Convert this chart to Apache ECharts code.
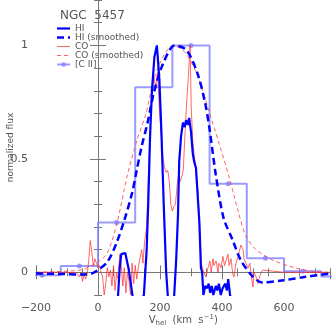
<!DOCTYPE html>
<html><head><meta charset="utf-8">
<script src="https://cdn.jsdelivr.net/npm/echarts@6/dist/echarts.min.js"></script>
<style>html,body{margin:0;padding:0;background:#fff}#c{width:332px;height:329px}</style>
</head><body><div id="c"></div>
<script>
// ---- data ----
const xMajorTicks = [-200, 0, 200, 400, 600];
const yMajorTicks = [0, 0.5, 1];

// HI (raw profile)
const hiV = [50,64,70,75,88,98,106,113,130,148,157,162,168,174,182,190,198,205,212,220,226,245,252,258,262,268,274,280,284,290,294,300,306,310,316,321,327,332,336,340,346,352,357,362,367,372,380,385,390,396,402,410,416,420,426,432];
const hiF = [-0.15,-0.12,0.02,0.08,0.085,0.02,-0.05,-0.12,-0.15,-0.1,0.1,0.3,0.6,0.8,0.95,1.0,0.85,0.6,0.3,0.0,-0.12,-0.12,0.05,0.25,0.49,0.6,0.66,0.64,0.67,0.65,0.68,0.62,0.52,0.49,0.46,0.35,0.22,0.02,0.0,-0.1,-0.06,-0.07,-0.05,-0.09,-0.06,-0.1,-0.06,-0.08,-0.05,-0.1,-0.07,-0.05,-0.08,-0.03,-0.1,-0.13];

// HI (smoothed)
const hisV = [-200,-100,-50,-20,0,30,60,85,110,125,140,160,180,210,248,285,320,345,360,380,405,435,460,500,530,600,670,750];
const hisF = [-0.005,-0.008,-0.01,-0.005,0.01,0.045,0.13,0.23,0.35,0.45,0.55,0.66,0.79,0.92,1.0,0.98,0.88,0.75,0.63,0.43,0.24,0.14,0.055,-0.02,-0.045,-0.035,-0.02,-0.005];

// CO (raw profile)
const coV = [-200,-150,-100,-70,-60,-55,-50,-45,-40,-35,-30,-25,-20,-15,-10,-5,0,5,10,15,20,25,30,35,40,45,50,55,60,65,70,75,80,85,90,95,100,105,110,115,120,125,130,135,141,145,150,157,162,168,174,180,186,192,198,204,210,215,220,225,230,235,240,245,250,255,260,265,270,275,281,286,291,297,301,306,312,318,323,327,333,339,342,348,355,361,365,371,374,381,387,390,397,403,408,413,419,423,429,435,439,445,452,461,468,471,477,484,490,494,500,503,510,516,519,526,532,600,700,750];
const coF = [0,0,0,-0.002,-0.02,0,-0.04,-0.01,-0.03,-0.01,0.05,0.14,0.09,0.03,0.06,0.04,0.02,0.03,0,-0.02,-0.1,-0.05,0.02,-0.02,0.01,-0.06,0.03,-0.08,0,-0.03,0.08,0.03,-0.06,0.02,-0.09,0,-0.04,-0.1,0.04,-0.05,0.03,-0.03,0.02,0.06,0.1,0.04,0.13,0.2,0.4,0.62,0.8,0.86,0.82,0.88,0.72,0.6,0.5,0.46,0.44,0.45,0.4,0.3,0.27,0.29,0.3,0.38,0.43,0.4,0.42,0.45,0.62,0.75,0.85,1.0,0.72,0.57,0.5,0.42,0.35,0.23,0.04,0.01,0,-0.02,0.02,0.05,0,0.06,0.03,0.05,0,0.04,0.02,0.07,0.03,0.05,0.08,0.03,0.06,-0.01,-0.02,0.04,0.07,0.12,0.1,0.06,0.04,0.02,0.04,-0.01,-0.065,0,-0.02,-0.05,-0.03,0,0.01,0,0,0];

// CO (smoothed)
const cosV = [-200,-100,-50,0,30,60,95,125,155,180,210,242,280,320,358,390,423,450,477,510,565,630,700,750];
const cosF = [0,0.005,0.012,0.045,0.085,0.21,0.43,0.58,0.7,0.85,0.95,1.0,0.97,0.87,0.71,0.57,0.42,0.28,0.16,0.10,0.053,0.022,0.003,0];

// [C II] binned spectrum
const ciiCenters = [-180,-60,60,180,300,420,540,660,780];
const ciiF = [-0.013,0.028,0.22,0.815,1.0,0.39,0.062,0.005,-0.018];
const ciiBinWidth = 120;

const legendNames = ['HI', 'HI (smoothed)', 'CO', 'CO (smoothed)', '[C II]'];
const titleText = 'NGC  5457';

// ---- build series data ----
const zip = (a, b) => a.map((v, i) => [v, b[i]]);
const ciiData = [];
ciiCenters.forEach((c, i) => {
  ciiData.push({value: [c - ciiBinWidth / 2, ciiF[i]], symbol: 'none'});
  ciiData.push({value: [c, ciiF[i]]});
  ciiData.push({value: [c + ciiBinWidth / 2, ciiF[i]], symbol: 'none'});
});

const FONT = 'DejaVu Sans';
const AX = '#777';
const TXT = '#555';
const XMIN = -200, XMAX = 750, YMIN = -0.1, YMAX = 1.2;

const C_HI = '#0000ff';
const C_CO = 'rgba(255,40,40,0.7)';
const C_COS = 'rgba(255,70,70,0.85)';
const C_CII = 'rgba(130,130,255,0.8)';

const styles = [
  {stroke: C_HI, lineWidth: 2.2},
  {stroke: C_HI, lineWidth: 2.5, lineDash: [7, 4]},
  {stroke: C_CO, lineWidth: 1},
  {stroke: C_COS, lineWidth: 1, lineDash: [4, 3]},
  {stroke: C_CII, lineWidth: 2}
];

function xAx(pos, major, labels) {
  return {
    type: 'value', position: pos, min: XMIN, max: XMAX,
    interval: major ? 200 : 50,
    axisLine: {show: major, lineStyle: {color: AX, width: 1}},
    axisTick: {show: true, inside: true, length: major ? 7 : 4, lineStyle: {color: AX}},
    axisLabel: {show: labels, color: TXT, fontFamily: FONT, fontSize: 11, margin: 8,
      showMinLabel: true, showMaxLabel: false,
      formatter: v => (v < 0 ? '\u2212' + Math.abs(v) : '' + v)},
    splitLine: {show: false}
  };
}
function yAx(pos, major, labels) {
  const a = {
    type: 'value', position: pos, min: YMIN, max: YMAX,
    axisLine: {show: major, lineStyle: {color: AX, width: 1}},
    axisTick: {show: true, inside: true, length: major ? 8 : 4, lineStyle: {color: AX}},
    axisLabel: {show: labels, color: TXT, fontFamily: FONT, fontSize: 11, margin: 8},
    splitLine: {show: false}
  };
  if (major) {
    a.axisTick.customValues = yMajorTicks;
    a.axisLabel.customValues = yMajorTicks;
  } else {
    a.interval = 0.1;
  }
  return a;
}

const xAxes = [xAx('bottom', true, true), xAx('bottom', false, false), xAx('top', true, false), xAx('top', false, false)];
xAxes[0].name = 'V{sub|hel}  (km  s{sup|\u22121})';
xAxes[0].nameLocation = 'middle';
xAxes[0].nameGap = 19;
xAxes[0].nameMoveOverlap = false;
xAxes[0].nameTextStyle = {color: TXT, fontFamily: FONT, fontSize: 10,
  rich: {sub: {fontSize: 7, verticalAlign: 'bottom', padding: [6, 0, 0, 0], fontFamily: FONT, color: TXT},
         sup: {fontSize: 7, verticalAlign: 'top', padding: [0, 0, 6, 0], fontFamily: FONT, color: TXT}}};
const yAxes = [yAx('left', true, true), yAx('left', false, false), yAx('right', true, false), yAx('right', false, false)];
yAxes[0].name = 'normalized flux';
yAxes[0].nameLocation = 'middle';
yAxes[0].nameGap = 21;
yAxes[0].nameMoveOverlap = false;
yAxes[0].nameTextStyle = {color: TXT, fontFamily: FONT, fontSize: 9};

// legend drawn as graphic elements
const graphics = [{type: 'text', left: 60, top: 10, style: {text: titleText, fill: TXT, font: '12px "DejaVu Sans"'}}];
legendNames.forEach((n, i) => {
  const y = 28.5 + i * 9;
  graphics.push({type: 'line', shape: {x1: 57, y1: y, x2: 70, y2: y}, style: Object.assign({fill: null}, styles[i])});
  if (i === 4) graphics.push({type: 'circle', shape: {cx: 63.5, cy: y, r: 2.3}, style: {fill: C_CII}});
  graphics.push({type: 'text', x: 75, y: y, style: {text: n, fill: TXT, font: '9px "DejaVu Sans"', verticalAlign: 'middle'}});
});

const chart = echarts.init(document.getElementById('c'), null, {renderer: 'canvas'});
chart.setOption({
  animation: false,
  backgroundColor: '#fff',
  grid: {left: 36, right: 1.5, top: 0, bottom: 34, containLabel: false, outerBoundsMode: 'none'},
  graphic: graphics,
  xAxis: xAxes,
  yAxis: yAxes,
  series: [
    {name: '[C II]', type: 'line', data: ciiData, symbol: 'circle', symbolSize: 5, showAllSymbol: true,
      itemStyle: {color: C_CII}, lineStyle: {color: C_CII, width: 2}, z: 1},
    {name: 'CO (smoothed)', type: 'line', data: zip(cosV, cosF), symbol: 'none', smooth: 0.3,
      itemStyle: {color: C_COS}, lineStyle: {color: C_COS, width: 1, type: [4, 3]}, z: 2},
    {name: 'CO', type: 'line', data: zip(coV, coF), symbol: 'none',
      itemStyle: {color: C_CO}, lineStyle: {color: C_CO, width: 1}, z: 3},
    {name: 'HI (smoothed)', type: 'line', data: zip(hisV, hisF), symbol: 'none', smooth: 0.3,
      itemStyle: {color: C_HI}, lineStyle: {color: C_HI, width: 2.5, type: [7, 4]}, z: 4},
    {name: 'HI', type: 'line', data: zip(hiV, hiF), symbol: 'none',
      itemStyle: {color: C_HI}, lineStyle: {color: C_HI, width: 2.2}, z: 5}
  ]
});
</script></body></html>
